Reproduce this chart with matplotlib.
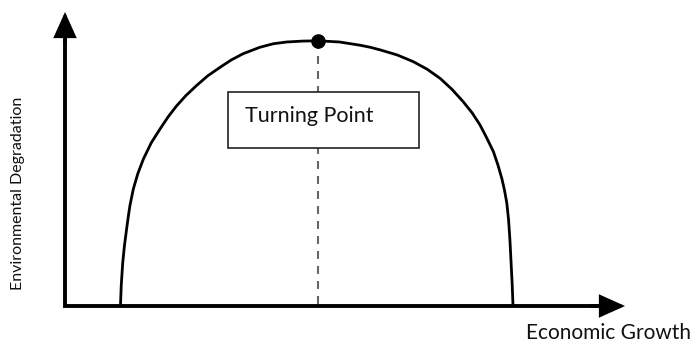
import matplotlib
matplotlib.use("Agg")
import matplotlib.pyplot as plt
from matplotlib.patches import Rectangle

plt.rcParams["font.family"] = ["Lato", "DejaVu Sans"]

# curve: economic growth vs environmental degradation
growth = [0.99, 1.005, 1.03, 1.06, 1.10, 1.13, 1.16, 1.22, 1.30, 1.40, 1.54, 1.70,
          1.84, 1.99, 2.16, 2.35, 2.55, 2.77, 2.97, 3.18, 3.48, 3.72, 3.96, 4.24, 4.52,
          4.90, 5.27, 5.45, 5.63, 5.93, 6.22, 6.47, 6.70, 6.91, 7.11, 7.27, 7.41, 7.53,
          7.65, 7.73, 7.80, 7.85, 7.89, 7.92, 7.945, 7.965, 7.985, 8.00]
degradation = [0.0, 0.72, 1.45, 2.03, 2.62, 3.04, 3.42, 3.98, 4.50, 5.00, 5.55, 6.03,
               6.43, 6.80, 7.16, 7.50, 7.83, 8.12, 8.37, 8.58, 8.80, 8.92, 8.98, 9.01, 9.02,
               8.98, 8.87, 8.80, 8.71, 8.54, 8.31, 8.05, 7.74, 7.37, 6.95, 6.57, 6.16, 5.72,
               5.25, 4.80, 4.34, 3.92, 3.49, 2.95, 2.25, 1.50, 0.75, 0.0]
turning_x = 4.52
turning_y = 9.02
axis_end = 10.0

x_label = "Economic Growth"
y_label = "Environmental Degradation"
box_label = "Turning Point"

fig = plt.figure(figsize=(6.94, 3.44), dpi=100)
ax = fig.add_axes([0, 0, 1, 1])
ax.set_xlim(-1.1607, 11.232)
ax.set_ylim(-1.2925, 10.408)
ax.axis("off")

# axes: L-shaped line plus arrow heads
ax.plot([0, 0, axis_end - 0.3], [axis_end - 0.5, 0, 0], color="black", lw=2.8,
        solid_joinstyle="miter", solid_capstyle="butt", zorder=3)
arrow = dict(arrowstyle="-|>,head_length=1.0,head_width=0.45", lw=2.8, color="black",
             shrinkA=0, shrinkB=0, mutation_scale=14, joinstyle="miter")
ax.annotate("", xy=(axis_end, 0), xytext=(axis_end - 0.6, 0), arrowprops=arrow)
ax.annotate("", xy=(0, axis_end), xytext=(0, axis_end - 1.0), arrowprops=arrow)

# dashed drop line from the turning point
ax.plot([turning_x, turning_x], [turning_y, 0], color="#666666", lw=1.5,
        linestyle=(0, (3.8, 3.4)), zorder=2)

ax.plot(growth, degradation, color="black", lw=2.0, solid_capstyle="butt",
        solid_joinstyle="round", zorder=3)
ax.plot([turning_x], [turning_y], "o", color="black", markersize=9.5, zorder=5)

# label box
ax.add_patch(Rectangle((2.91, 5.36), 3.42, 1.93, facecolor="white", edgecolor="#222222",
                       lw=1.2, zorder=4))
ax.text(3.21, 6.45, box_label, fontsize=15.5, color="#111111", ha="left", va="center",
        zorder=6)

ax.text(11.17, -0.92, x_label, fontsize=15, color="#111111", ha="right", va="center")
ax.text(-0.84, 3.84, y_label, fontsize=11.5, color="#111111", rotation=90,
        ha="center", va="center")

fig.savefig("out.png", dpi=100)
